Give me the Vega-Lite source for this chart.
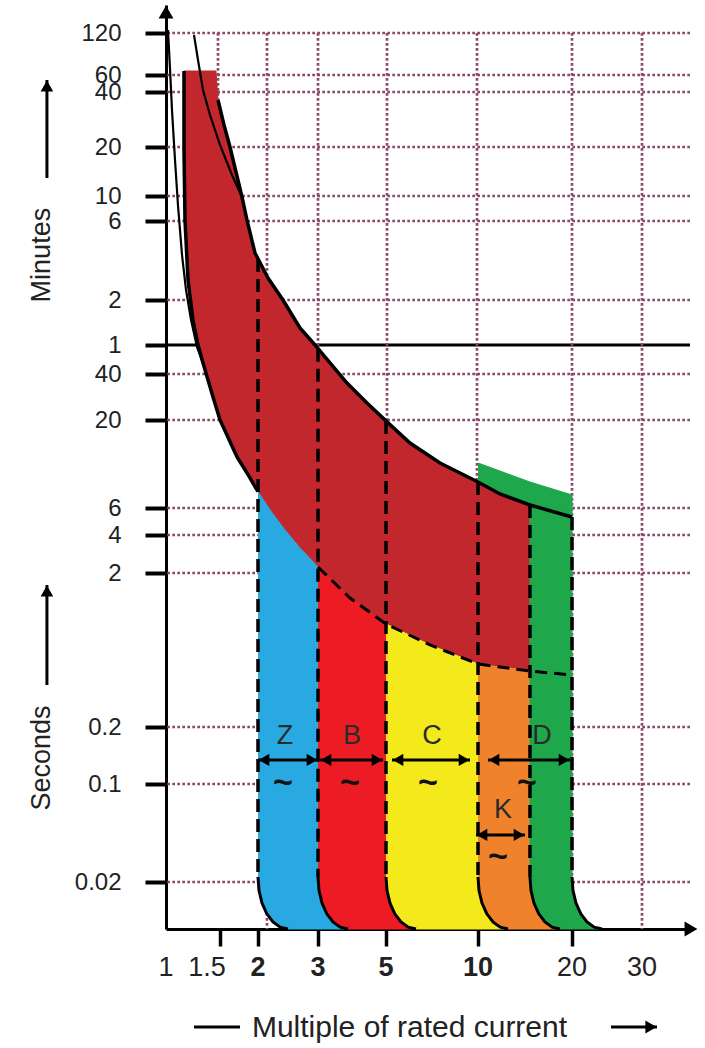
{
"$schema":"https://vega.github.io/schema/vega-lite/v6.json",
"width":524,"height":924,"autosize":"none",
"padding":{"left":166,"top":5,"right":15,"bottom":119},
"background":"#ffffff",
"config":{"view":{"stroke":null},"font":"Liberation Sans"},
"datasets":{
"hg":[{"t":0.02},{"t":0.1},{"t":0.2},{"t":2},{"t":4},{"t":6},{"t":20},{"t":40},{"t":120},{"t":360},{"t":600},{"t":1200},{"t":2400},{"t":3600},{"t":7200}],
"hm":[{"t":60}],
"vg":[{"gx":1.4776,"g1":7200,"g2":100},{"gx":2.1254,"g1":7200,"g2":0.0092},{"gx":3,"g1":7200,"g2":0.0092},{"gx":5.038,"g1":7200,"g2":0.0092},{"gx":9.925,"g1":7200,"g2":0.0092},{"gx":20,"g1":7200,"g2":0.0092},{"gx":30,"g1":7200,"g2":0.0092}],
"xl":[{"v":1,"lab":"1"},{"v":1.5,"lab":"1.5"},{"v":2,"lab":"2"},{"v":3,"lab":"3"},{"v":5,"lab":"5"},{"v":10,"lab":"10"},{"v":20,"lab":"20"},{"v":30,"lab":"30"}],
"poly":[
{"s":"red","i":1,"x":1.1447,"t":3846},{"s":"red","i":2,"x":1.4556,"t":3846},{"s":"red","i":3,"x":1.4776,"t":2170},{"s":"red","i":4,"x":1.5461,"t":1583},{"s":"red","i":5,"x":1.618,"t":1200},{"s":"red","i":6,"x":1.6932,"t":842.6},{"s":"red","i":7,"x":1.7718,"t":587.9},{"s":"red","i":8,"x":1.8402,"t":367},{"s":"red","i":9,"x":1.9551,"t":230.7},{"s":"red","i":10,"x":2.1398,"t":163},{"s":"red","i":11,"x":2.3681,"t":120},{"s":"red","i":12,"x":2.656,"t":78},{"s":"red","i":13,"x":2.9398,"t":60},{"s":"red","i":14,"x":3.283,"t":46.7},{"s":"red","i":15,"x":3.73,"t":34.9},{"s":"red","i":16,"x":4.335,"t":25.8},{"s":"red","i":17,"x":5.038,"t":19.5},{"s":"red","i":18,"x":5.991,"t":14.6},{"s":"red","i":19,"x":7.51,"t":11.1},{"s":"red","i":20,"x":10,"t":8.56},{"s":"red","i":21,"x":11.76,"t":7.27},{"s":"red","i":22,"x":14.67,"t":6.25},{"s":"red","i":23,"x":14.67,"t":0.469},{"s":"red","i":24,"x":11.76,"t":0.49},{"s":"red","i":25,"x":10,"t":0.513},{"s":"red","i":26,"x":6.965,"t":0.682},{"s":"red","i":27,"x":5,"t":0.933},{"s":"red","i":28,"x":3.815,"t":1.376},{"s":"red","i":29,"x":3,"t":2.231},{"s":"red","i":30,"x":2.656,"t":3.156},{"s":"red","i":31,"x":2.4,"t":4.31},{"s":"red","i":32,"x":2.169,"t":5.82},{"s":"red","i":33,"x":2,"t":7.5},{"s":"red","i":34,"x":1.8402,"t":9.69},{"s":"red","i":35,"x":1.706,"t":12.06},{"s":"red","i":36,"x":1.5,"t":20},{"s":"red","i":37,"x":1.4232,"t":28.3},{"s":"red","i":38,"x":1.3203,"t":46.7},{"s":"red","i":39,"x":1.2716,"t":60},{"s":"red","i":40,"x":1.2247,"t":88.2},{"s":"red","i":41,"x":1.1796,"t":158.5},{"s":"red","i":42,"x":1.1533,"t":367},{"s":"red","i":43,"x":1.1447,"t":1150},
{"s":"blue","i":1,"x":2,"t":7.5},{"s":"blue","i":2,"x":2.169,"t":5.82},{"s":"blue","i":3,"x":2.4,"t":4.31},{"s":"blue","i":4,"x":2.656,"t":3.156},{"s":"blue","i":5,"x":3,"t":2.231},{"s":"blue","i":6,"x":3,"t":0.02171},{"s":"blue","i":7,"x":3.0226,"t":0.01738},{"s":"blue","i":8,"x":3.0915,"t":0.01414},{"s":"blue","i":9,"x":3.205,"t":0.01183},{"s":"blue","i":10,"x":3.3578,"t":0.01033},{"s":"blue","i":11,"x":3.5445,"t":0.009478},{"s":"blue","i":12,"x":3.7583,"t":0.0092},{"s":"blue","i":13,"x":2.4495,"t":0.0092},{"s":"blue","i":14,"x":2.3237,"t":0.009478},{"s":"blue","i":15,"x":2.2134,"t":0.01033},{"s":"blue","i":16,"x":2.1225,"t":0.01183},{"s":"blue","i":17,"x":2.0548,"t":0.01414},{"s":"blue","i":18,"x":2.0136,"t":0.01738},{"s":"blue","i":19,"x":2,"t":0.02171},
{"s":"bred","i":1,"x":3,"t":2.231},{"s":"bred","i":2,"x":3.815,"t":1.376},{"s":"bred","i":3,"x":5,"t":0.933},{"s":"bred","i":4,"x":5,"t":0.02171},{"s":"bred","i":5,"x":5.0378,"t":0.01738},{"s":"bred","i":6,"x":5.153,"t":0.01414},{"s":"bred","i":7,"x":5.3428,"t":0.01183},{"s":"bred","i":8,"x":5.5983,"t":0.01033},{"s":"bred","i":9,"x":5.9103,"t":0.009478},{"s":"bred","i":10,"x":6.268,"t":0.0092},{"s":"bred","i":11,"x":3.7583,"t":0.0092},{"s":"bred","i":12,"x":3.5445,"t":0.009478},{"s":"bred","i":13,"x":3.3578,"t":0.01033},{"s":"bred","i":14,"x":3.205,"t":0.01183},{"s":"bred","i":15,"x":3.0915,"t":0.01414},{"s":"bred","i":16,"x":3.0226,"t":0.01738},{"s":"bred","i":17,"x":3,"t":0.02171},
{"s":"yellow","i":1,"x":5,"t":0.933},{"s":"yellow","i":2,"x":6.965,"t":0.682},{"s":"yellow","i":3,"x":10,"t":0.513},{"s":"yellow","i":4,"x":10,"t":0.02171},{"s":"yellow","i":5,"x":10.074,"t":0.01738},{"s":"yellow","i":6,"x":10.299,"t":0.01414},{"s":"yellow","i":7,"x":10.67,"t":0.01183},{"s":"yellow","i":8,"x":11.17,"t":0.01033},{"s":"yellow","i":9,"x":11.779,"t":0.009478},{"s":"yellow","i":10,"x":12.476,"t":0.0092},{"s":"yellow","i":11,"x":6.268,"t":0.0092},{"s":"yellow","i":12,"x":5.9103,"t":0.009478},{"s":"yellow","i":13,"x":5.5983,"t":0.01033},{"s":"yellow","i":14,"x":5.3428,"t":0.01183},{"s":"yellow","i":15,"x":5.153,"t":0.01414},{"s":"yellow","i":16,"x":5.0378,"t":0.01738},{"s":"yellow","i":17,"x":5,"t":0.02171},
{"s":"orange","i":1,"x":10,"t":0.513},{"s":"orange","i":2,"x":11.76,"t":0.49},{"s":"orange","i":3,"x":14.67,"t":0.469},{"s":"orange","i":4,"x":14.67,"t":0.02171},{"s":"orange","i":5,"x":14.78,"t":0.01738},{"s":"orange","i":6,"x":15.109,"t":0.01414},{"s":"orange","i":7,"x":15.653,"t":0.01183},{"s":"orange","i":8,"x":16.386,"t":0.01033},{"s":"orange","i":9,"x":17.279,"t":0.009478},{"s":"orange","i":10,"x":18.302,"t":0.0092},{"s":"orange","i":11,"x":12.476,"t":0.0092},{"s":"orange","i":12,"x":11.779,"t":0.009478},{"s":"orange","i":13,"x":11.17,"t":0.01033},{"s":"orange","i":14,"x":10.67,"t":0.01183},{"s":"orange","i":15,"x":10.299,"t":0.01414},{"s":"orange","i":16,"x":10.074,"t":0.01738},{"s":"orange","i":17,"x":10,"t":0.02171},
{"s":"green","i":1,"x":10,"t":11.11},{"s":"green","i":2,"x":11.76,"t":9.95},{"s":"green","i":3,"x":14.67,"t":8.56},{"s":"green","i":4,"x":20,"t":7.17},{"s":"green","i":5,"x":20,"t":0.02171},{"s":"green","i":6,"x":20.116,"t":0.01738},{"s":"green","i":7,"x":20.469,"t":0.01414},{"s":"green","i":8,"x":21.046,"t":0.01183},{"s":"green","i":9,"x":21.815,"t":0.01033},{"s":"green","i":10,"x":22.744,"t":0.009478},{"s":"green","i":11,"x":23.796,"t":0.0092},{"s":"green","i":12,"x":18.302,"t":0.0092},{"s":"green","i":13,"x":17.279,"t":0.009478},{"s":"green","i":14,"x":16.386,"t":0.01033},{"s":"green","i":15,"x":15.653,"t":0.01183},{"s":"green","i":16,"x":15.109,"t":0.01414},{"s":"green","i":17,"x":14.78,"t":0.01738},{"s":"green","i":18,"x":14.67,"t":0.02171},{"s":"green","i":19,"x":14.67,"t":6.25},{"s":"green","i":20,"x":11.76,"t":7.27},{"s":"green","i":21,"x":10,"t":8.56}
],
"ln":[
{"c":"a","i":1,"x":1.015,"t":7563},{"c":"a","i":2,"x":1.031,"t":3910},{"c":"a","i":3,"x":1.046,"t":1913},{"c":"a","i":4,"x":1.07,"t":998},{"c":"a","i":5,"x":1.094,"t":499},{"c":"a","i":6,"x":1.128,"t":224},{"c":"a","i":7,"x":1.162,"t":138},{"c":"a","i":8,"x":1.207,"t":88.2},{"c":"a","i":9,"x":1.262,"t":58.3},{"c":"a","i":10,"x":1.32,"t":46.7},
{"c":"b","i":1,"x":1.234,"t":6966},{"c":"b","i":2,"x":1.2716,"t":4611},{"c":"b","i":3,"x":1.3203,"t":2517},{"c":"b","i":4,"x":1.3915,"t":1796},{"c":"b","i":5,"x":1.5,"t":1231},{"c":"b","i":6,"x":1.6427,"t":807.6},{"c":"b","i":7,"x":1.7718,"t":587.9},
{"c":"U","i":1,"x":1.4776,"t":2170},{"c":"U","i":2,"x":1.5461,"t":1583},{"c":"U","i":3,"x":1.618,"t":1200},{"c":"U","i":4,"x":1.6932,"t":842.6},{"c":"U","i":5,"x":1.7718,"t":587.9},{"c":"U","i":6,"x":1.8402,"t":367},{"c":"U","i":7,"x":1.9551,"t":230.7},{"c":"U","i":8,"x":2.1398,"t":163},{"c":"U","i":9,"x":2.3681,"t":120},{"c":"U","i":10,"x":2.656,"t":78},{"c":"U","i":11,"x":2.9398,"t":60},{"c":"U","i":12,"x":3.283,"t":46.7},{"c":"U","i":13,"x":3.73,"t":34.9},{"c":"U","i":14,"x":4.335,"t":25.8},{"c":"U","i":15,"x":5.038,"t":19.5},{"c":"U","i":16,"x":5.991,"t":14.6},{"c":"U","i":17,"x":7.51,"t":11.1},{"c":"U","i":18,"x":10,"t":8.56},{"c":"U","i":19,"x":11.76,"t":7.27},{"c":"U","i":20,"x":14.67,"t":6.25},{"c":"U","i":21,"x":20,"t":5.24},
{"c":"L","i":1,"x":1.1447,"t":3846},{"c":"L","i":2,"x":1.1447,"t":1150},{"c":"L","i":3,"x":1.1533,"t":367},{"c":"L","i":4,"x":1.1796,"t":158.5},{"c":"L","i":5,"x":1.2247,"t":88.2},{"c":"L","i":6,"x":1.2716,"t":60},{"c":"L","i":7,"x":1.3203,"t":46.7},{"c":"L","i":8,"x":1.4232,"t":28.3},{"c":"L","i":9,"x":1.5,"t":20},{"c":"L","i":10,"x":1.706,"t":12.06},{"c":"L","i":11,"x":1.8402,"t":9.69},{"c":"L","i":12,"x":2,"t":7.5},
{"c":"dl","i":1,"x":3,"t":2.231},{"c":"dl","i":2,"x":3.815,"t":1.376},{"c":"dl","i":3,"x":5,"t":0.933},{"c":"dl","i":4,"x":6.965,"t":0.682},{"c":"dl","i":5,"x":10,"t":0.513},{"c":"dl","i":6,"x":11.76,"t":0.49},{"c":"dl","i":7,"x":14.67,"t":0.462},{"c":"dl","i":8,"x":20,"t":0.435},
{"c":"cz","i":1,"x":2,"t":0.02171},{"c":"cz","i":2,"x":2.0136,"t":0.01738},{"c":"cz","i":3,"x":2.0548,"t":0.01414},{"c":"cz","i":4,"x":2.1225,"t":0.01183},{"c":"cz","i":5,"x":2.2134,"t":0.01033},{"c":"cz","i":6,"x":2.3237,"t":0.009478},{"c":"cz","i":7,"x":2.4495,"t":0.0092},
{"c":"cb","i":1,"x":3,"t":0.02171},{"c":"cb","i":2,"x":3.0226,"t":0.01738},{"c":"cb","i":3,"x":3.0915,"t":0.01414},{"c":"cb","i":4,"x":3.205,"t":0.01183},{"c":"cb","i":5,"x":3.3578,"t":0.01033},{"c":"cb","i":6,"x":3.5445,"t":0.009478},{"c":"cb","i":7,"x":3.7583,"t":0.0092},
{"c":"cc","i":1,"x":5,"t":0.02171},{"c":"cc","i":2,"x":5.0378,"t":0.01738},{"c":"cc","i":3,"x":5.153,"t":0.01414},{"c":"cc","i":4,"x":5.3428,"t":0.01183},{"c":"cc","i":5,"x":5.5983,"t":0.01033},{"c":"cc","i":6,"x":5.9103,"t":0.009478},{"c":"cc","i":7,"x":6.268,"t":0.0092},
{"c":"ck","i":1,"x":10,"t":0.02171},{"c":"ck","i":2,"x":10.074,"t":0.01738},{"c":"ck","i":3,"x":10.299,"t":0.01414},{"c":"ck","i":4,"x":10.67,"t":0.01183},{"c":"ck","i":5,"x":11.17,"t":0.01033},{"c":"ck","i":6,"x":11.779,"t":0.009478},{"c":"ck","i":7,"x":12.476,"t":0.0092},
{"c":"cd","i":1,"x":14.67,"t":0.02171},{"c":"cd","i":2,"x":14.78,"t":0.01738},{"c":"cd","i":3,"x":15.109,"t":0.01414},{"c":"cd","i":4,"x":15.653,"t":0.01183},{"c":"cd","i":5,"x":16.386,"t":0.01033},{"c":"cd","i":6,"x":17.279,"t":0.009478},{"c":"cd","i":7,"x":18.302,"t":0.0092},
{"c":"ce","i":1,"x":20,"t":0.02171},{"c":"ce","i":2,"x":20.116,"t":0.01738},{"c":"ce","i":3,"x":20.469,"t":0.01414},{"c":"ce","i":4,"x":21.046,"t":0.01183},{"c":"ce","i":5,"x":21.815,"t":0.01033},{"c":"ce","i":6,"x":22.744,"t":0.009478},{"c":"ce","i":7,"x":23.796,"t":0.0092}
],
"vd":[{"x":2,"t1":212,"t2":0.02171},{"x":3,"t1":57,"t2":0.02171},{"x":5,"t1":19.7,"t2":0.02171},{"x":10,"t1":8.56,"t2":0.02171},{"x":14.67,"t1":6.25,"t2":0.02171},{"x":20,"t1":5.24,"t2":0.02171}],
"ann":[
{"n":"Z","a1":2,"a2":3,"ay":0.1339,"lx":2.4,"ly":0.1793,"tx":2.368,"ty":0.1012},
{"n":"B","a1":3.045,"a2":4.889,"ay":0.1339,"lx":3.873,"ly":0.1793,"tx":3.815,"ty":0.1012},
{"n":"C","a1":5.231,"a2":9.415,"ay":0.1339,"lx":7.071,"ly":0.1793,"tx":6.861,"ty":0.1012},
{"n":"D","a1":10.765,"a2":19.71,"ay":0.1339,"lx":16.03,"ly":0.1793,"tx":14.35,"ty":0.1012},
{"n":"K","a1":9.85,"a2":14.14,"ay":0.04328,"lx":12.02,"ly":0.0652,"tx":11.59,"ty":0.0302}
],
"side":[{"txt":"Minutes","x":0.394,"y":224,"ax":0.409,"a1":774,"a2":3195},{"txt":"Seconds","x":0.394,"y":0.1372,"ax":0.409,"a1":0.3748,"a2":1.6715}],
"xt":[{"k":"dash","x1":1.234,"x2":1.745,"y":0.001822},{"k":"arrow","x1":25.07,"x2":32.82,"y":0.001822}],
"corner":[{"k":"up","x":1,"y":11400},{"k":"right","x":40,"y":0.0092}]
},
"layer":[
{"data":{"name":"hg"},"mark":{"type":"rule","color":"#8C4A6B","strokeWidth":2.7,"strokeDash":[2.7,2.3]},
 "encoding":{
  "y":{"field":"t","type":"quantitative","scale":{"type":"log","domain":[0.0092,0.02,0.1,0.2,2,4,6,20,40,60,120,360,600,1200,2400,3600,7200,11400],"range":[924,877,779,722,568,530,503,415,369,340,295,216,191,142,87,70,28,0],"nice":false},
   "axis":{"values":[0.02,0.1,0.2,2,4,6,20,40,60,120,360,600,1200,2400,3600,7200],"labelExpr":"datum.value >= 60 ? '' + round(datum.value/60) : '' + datum.value","title":null,"labelFontSize":24,"labelColor":"#222222","labelPadding":24,"tickSize":21,"tickWidth":4,"tickColor":"#000000","domainColor":"#000000","domainWidth":3,"labelOverlap":false,"labelFlush":false,"labelBound":false,"grid":false}}}},
{"data":{"name":"hm"},"mark":{"type":"rule","color":"#000000","strokeWidth":3},"encoding":{"y":{"field":"t","type":"quantitative"}}},
{"data":{"name":"vg"},"mark":{"type":"rule","color":"#8C4A6B","strokeWidth":2.7,"strokeDash":[2.7,2.3]},
 "encoding":{
  "x":{"field":"gx","type":"quantitative","scale":{"type":"log","domain":[1,1.5,2,3,5,10,20,30,40],"range":[0,54,92,152,220,312,406,476,524],"nice":false},
   "axis":{"values":[1.5,2,3,5,10,20],"labels":false,"title":"Multiple of rated current","titleFontSize":30,"titleFontWeight":"normal","titleColor":"#222222","titleX":243,"titleY":98,"titleBaseline":"middle","tickSize":17,"tickWidth":3.5,"tickColor":"#000000","domainColor":"#000000","domainWidth":3,"grid":false}},
  "y":{"field":"g1","type":"quantitative"},
  "y2":{"field":"g2"}}},
{"data":{"name":"poly"},"transform":[{"filter":"datum.s == 'red'"}],"mark":{"type":"line","fill":"#C1272D","stroke":"#C1272D","strokeWidth":1},"encoding":{"x":{"field":"x","type":"quantitative"},"y":{"field":"t","type":"quantitative"},"order":{"field":"i","type":"quantitative"}}},
{"data":{"name":"poly"},"transform":[{"filter":"datum.s == 'blue'"}],"mark":{"type":"line","fill":"#28A9E1","stroke":"#28A9E1","strokeWidth":1},"encoding":{"x":{"field":"x","type":"quantitative"},"y":{"field":"t","type":"quantitative"},"order":{"field":"i","type":"quantitative"}}},
{"data":{"name":"poly"},"transform":[{"filter":"datum.s == 'bred'"}],"mark":{"type":"line","fill":"#ED1C24","stroke":"#ED1C24","strokeWidth":1},"encoding":{"x":{"field":"x","type":"quantitative"},"y":{"field":"t","type":"quantitative"},"order":{"field":"i","type":"quantitative"}}},
{"data":{"name":"poly"},"transform":[{"filter":"datum.s == 'yellow'"}],"mark":{"type":"line","fill":"#F4EA1B","stroke":"#F4EA1B","strokeWidth":1},"encoding":{"x":{"field":"x","type":"quantitative"},"y":{"field":"t","type":"quantitative"},"order":{"field":"i","type":"quantitative"}}},
{"data":{"name":"poly"},"transform":[{"filter":"datum.s == 'orange'"}],"mark":{"type":"line","fill":"#F0822C","stroke":"#F0822C","strokeWidth":1},"encoding":{"x":{"field":"x","type":"quantitative"},"y":{"field":"t","type":"quantitative"},"order":{"field":"i","type":"quantitative"}}},
{"data":{"name":"poly"},"transform":[{"filter":"datum.s == 'green'"}],"mark":{"type":"line","fill":"#1FA84B","stroke":"#1FA84B","strokeWidth":1},"encoding":{"x":{"field":"x","type":"quantitative"},"y":{"field":"t","type":"quantitative"},"order":{"field":"i","type":"quantitative"}}},
{"data":{"name":"ln"},"transform":[{"filter":"datum.c == 'a' || datum.c == 'b'"}],"mark":{"type":"line","color":"#000000","strokeWidth":2.2},"encoding":{"x":{"field":"x","type":"quantitative"},"y":{"field":"t","type":"quantitative"},"detail":{"field":"c"},"order":{"field":"i","type":"quantitative"}}},
{"data":{"name":"ln"},"transform":[{"filter":"datum.c == 'U' || datum.c == 'L'"}],"mark":{"type":"line","color":"#000000","strokeWidth":3.5},"encoding":{"x":{"field":"x","type":"quantitative"},"y":{"field":"t","type":"quantitative"},"detail":{"field":"c"},"order":{"field":"i","type":"quantitative"}}},
{"data":{"name":"ln"},"transform":[{"filter":"datum.c == 'dl'"}],"mark":{"type":"line","color":"#000000","strokeWidth":3,"strokeDash":[12,7]},"encoding":{"x":{"field":"x","type":"quantitative"},"y":{"field":"t","type":"quantitative"},"order":{"field":"i","type":"quantitative"}}},
{"data":{"name":"ln"},"transform":[{"filter":"indexof(['cz','cb','cc','ck','cd','ce'], datum.c) >= 0"}],"mark":{"type":"line","color":"#000000","strokeWidth":3},"encoding":{"x":{"field":"x","type":"quantitative"},"y":{"field":"t","type":"quantitative"},"detail":{"field":"c"},"order":{"field":"i","type":"quantitative"}}},
{"data":{"name":"vd"},"mark":{"type":"rule","color":"#000000","strokeWidth":3.5,"strokeDash":[13,7]},"encoding":{"x":{"field":"x","type":"quantitative"},"y":{"field":"t1","type":"quantitative"},"y2":{"field":"t2"}}},
{"data":{"name":"ann"},"mark":{"type":"rule","color":"#000000","strokeWidth":3},"encoding":{"x":{"field":"a1","type":"quantitative"},"x2":{"field":"a2"},"y":{"field":"ay","type":"quantitative"}}},
{"data":{"name":"ann"},"mark":{"type":"point","shape":"triangle-left","size":150,"filled":true,"color":"#000000","opacity":1,"xOffset":6},"encoding":{"x":{"field":"a1","type":"quantitative"},"y":{"field":"ay","type":"quantitative"}}},
{"data":{"name":"ann"},"mark":{"type":"point","shape":"triangle-right","size":150,"filled":true,"color":"#000000","opacity":1,"xOffset":-6},"encoding":{"x":{"field":"a2","type":"quantitative"},"y":{"field":"ay","type":"quantitative"}}},
{"data":{"name":"ann"},"mark":{"type":"text","fontSize":27,"color":"#2a2a2a","align":"center","baseline":"middle"},"encoding":{"x":{"field":"lx","type":"quantitative"},"y":{"field":"ly","type":"quantitative"},"text":{"field":"n"}}},
{"data":{"name":"ann"},"mark":{"type":"text","fontSize":34,"fontWeight":"bold","color":"#111111","align":"center","baseline":"middle"},"encoding":{"x":{"field":"tx","type":"quantitative"},"y":{"field":"ty","type":"quantitative"},"text":{"value":"~"}}},
{"data":{"name":"side"},"mark":{"type":"text","fontSize":27,"color":"#222222","align":"center","baseline":"middle","angle":270},"encoding":{"x":{"field":"x","type":"quantitative"},"y":{"field":"y","type":"quantitative"},"text":{"field":"txt"}}},
{"data":{"name":"side"},"mark":{"type":"rule","color":"#000000","strokeWidth":3},"encoding":{"x":{"field":"ax","type":"quantitative"},"y":{"field":"a1","type":"quantitative"},"y2":{"field":"a2"}}},
{"data":{"name":"side"},"mark":{"type":"point","shape":"triangle-up","size":160,"filled":true,"color":"#000000","opacity":1,"yOffset":6},"encoding":{"x":{"field":"ax","type":"quantitative"},"y":{"field":"a2","type":"quantitative"}}},
{"data":{"name":"xt"},"mark":{"type":"rule","color":"#000000","strokeWidth":3},"encoding":{"x":{"field":"x1","type":"quantitative"},"x2":{"field":"x2"},"y":{"field":"y","type":"quantitative"}}},
{"data":{"name":"xt"},"transform":[{"filter":"datum.k == 'arrow'"}],"mark":{"type":"point","shape":"triangle-right","size":170,"filled":true,"color":"#000000","opacity":1,"xOffset":-6},"encoding":{"x":{"field":"x2","type":"quantitative"},"y":{"field":"y","type":"quantitative"}}},
{"data":{"name":"xl"},"transform":[{"filter":"indexof([2,3,5,10], datum.v) >= 0"}],"mark":{"type":"text","fontSize":27,"fontWeight":"bold","color":"#222222","align":"center","baseline":"middle","dy":39},"encoding":{"x":{"field":"v","type":"quantitative"},"y":{"datum":0.0092,"type":"quantitative"},"text":{"field":"lab"}}},
{"data":{"name":"xl"},"transform":[{"filter":"indexof([1,20,30], datum.v) >= 0"}],"mark":{"type":"text","fontSize":27,"color":"#222222","align":"center","baseline":"middle","dy":39},"encoding":{"x":{"field":"v","type":"quantitative"},"y":{"datum":0.0092,"type":"quantitative"},"text":{"field":"lab"}}},
{"data":{"name":"xl"},"transform":[{"filter":"datum.v == 1.5"}],"mark":{"type":"text","fontSize":27,"color":"#222222","align":"center","baseline":"middle","dy":39,"dx":-13},"encoding":{"x":{"field":"v","type":"quantitative"},"y":{"datum":0.0092,"type":"quantitative"},"text":{"field":"lab"}}},
{"data":{"name":"corner"},"transform":[{"filter":"datum.k == 'up'"}],"mark":{"type":"point","shape":"triangle-up","size":220,"filled":true,"color":"#000000","opacity":1,"yOffset":7},"encoding":{"x":{"field":"x","type":"quantitative"},"y":{"field":"y","type":"quantitative"}}},
{"data":{"name":"corner"},"transform":[{"filter":"datum.k == 'right'"}],"mark":{"type":"point","shape":"triangle-right","size":220,"filled":true,"color":"#000000","opacity":1,"xOffset":1},"encoding":{"x":{"field":"x","type":"quantitative"},"y":{"field":"y","type":"quantitative"}}}
]
}
